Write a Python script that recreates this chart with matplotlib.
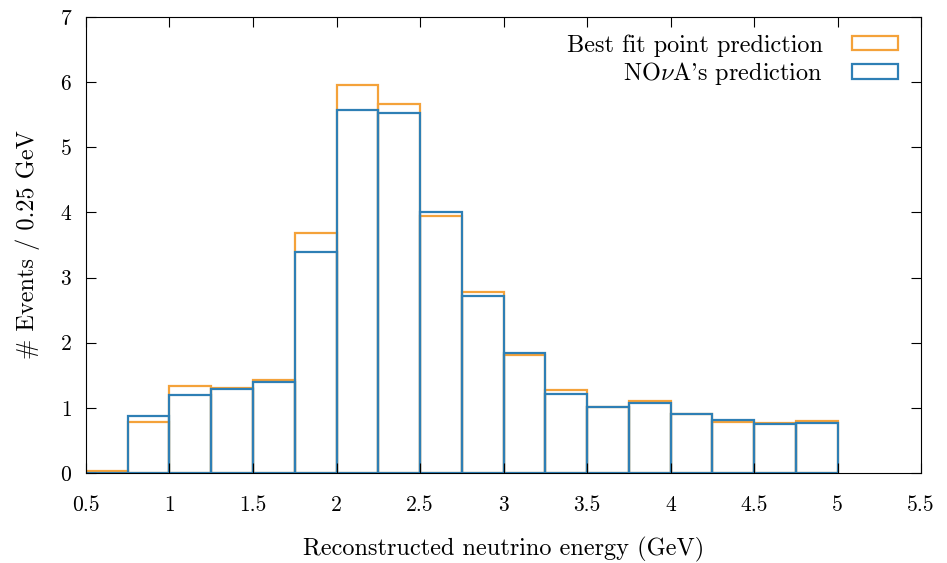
import numpy as np
import matplotlib.pyplot as plt
from matplotlib.patches import Patch

plt.rcParams['font.family'] = 'serif'
plt.rcParams['font.serif'] = ['cmr10']
plt.rcParams['mathtext.fontset'] = 'cm'
plt.rcParams['axes.formatter.use_mathtext'] = True

# bin edges (GeV) and event counts per 0.25 GeV bin
bin_edges = np.arange(0.5, 5.01, 0.25)
best_fit = [0.03, 0.79, 1.33, 1.31, 1.43, 3.69, 5.95, 5.66, 3.94, 2.78,
            1.81, 1.27, 1.01, 1.11, 0.90, 0.79, 0.77, 0.80]
nova = [0.0, 0.88, 1.19, 1.29, 1.40, 3.40, 5.57, 5.53, 4.01, 2.71,
        1.84, 1.22, 1.01, 1.07, 0.90, 0.82, 0.75, 0.76]

orange = '#F4A23A'
blue = '#2E7FB5'

fig = plt.figure(figsize=(9.47, 5.63), dpi=100)
ax = fig.add_axes([0.0908, 0.1599, 0.8818, 0.8099])

left = bin_edges[:-1]
ax.bar(left, best_fit, width=0.25, align='edge', fill=False,
       edgecolor=orange, linewidth=1.6)
ax.bar(left, nova, width=0.25, align='edge', fill=False,
       edgecolor=blue, linewidth=1.6)

ax.set_xlim(0.5, 5.5)
ax.set_ylim(0, 7)
ax.set_xticks(np.arange(0.5, 5.51, 0.5))
ax.set_xticklabels(['0.5', '1', '1.5', '2', '2.5', '3', '3.5', '4', '4.5', '5', '5.5'])
ax.set_yticks(range(0, 8))
ax.tick_params(direction='in', top=True, right=True, length=7, labelsize=15.5)
ax.tick_params(axis='x', pad=16)
ax.tick_params(axis='y', pad=10)

ax.set_xlabel('Reconstructed neutrino energy (GeV)', fontsize=17.5, labelpad=16)
ax.set_ylabel('# Events / 0.25 GeV', fontsize=17.5, labelpad=14)

handles = [Patch(facecolor='none', edgecolor=orange, linewidth=1.6),
           Patch(facecolor='none', edgecolor=blue, linewidth=1.6)]
ax.legend(handles, ['Best fit point prediction', r"NO$\nu$A's prediction"],
          loc='upper right', bbox_to_anchor=(0.993, 1.0), frameon=False,
          markerfirst=False, fontsize=17.5,
          handlelength=1.9, handleheight=0.55, handletextpad=1.2,
          labelspacing=0.15, borderaxespad=0.3)

fig.savefig('out.png', dpi=100)
